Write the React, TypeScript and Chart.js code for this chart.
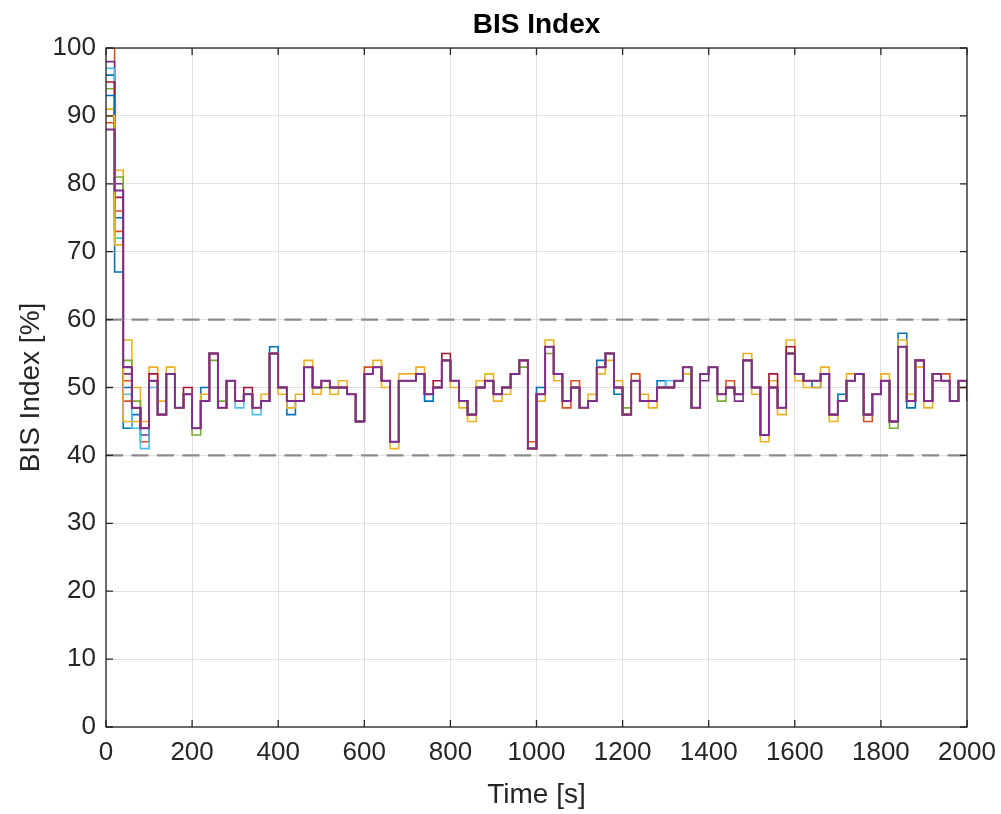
import React, { useEffect, useRef } from "react";
import { Chart, registerables } from "chart.js";

Chart.register(...registerables);

// Time stamps [s] (one sample every 20 s)
const TIME = [
  0, 20, 40, 60, 80, 100, 120, 140, 160, 180,
  200, 220, 240, 260, 280, 300, 320, 340, 360, 380,
  400, 420, 440, 460, 480, 500, 520, 540, 560, 580,
  600, 620, 640, 660, 680, 700, 720, 740, 760, 780,
  800, 820, 840, 860, 880, 900, 920, 940, 960, 980,
  1000, 1020, 1040, 1060, 1080, 1100, 1120, 1140, 1160, 1180,
  1200, 1220, 1240, 1260, 1280, 1300, 1320, 1340, 1360, 1380,
  1400, 1420, 1440, 1460, 1480, 1500, 1520, 1540, 1560, 1580,
  1600, 1620, 1640, 1660, 1680, 1700, 1720, 1740, 1760, 1780,
  1800, 1820, 1840, 1860, 1880, 1900, 1920, 1940, 1960, 1980,
  2000,
];

// BIS index per patient [%]
const PATIENT_1 = [
  96, 67, 44, 46, 44, 51, 46, 52, 47, 49,
  44, 50, 55, 47, 51, 48, 49, 47, 48, 56,
  50, 46, 48, 53, 50, 51, 50, 50, 49, 45,
  52, 53, 51, 42, 51, 51, 52, 48, 50, 54,
  51, 48, 46, 50, 51, 49, 50, 52, 54, 41,
  50, 56, 52, 48, 50, 47, 48, 54, 55, 49,
  46, 51, 48, 48, 51, 50, 51, 53, 47, 52,
  53, 49, 50, 49, 54, 50, 43, 50, 47, 55,
  52, 51, 50, 52, 46, 49, 51, 52, 46, 49,
  51, 45, 58, 47, 54, 48, 52, 51, 48, 51,
  48,
];
const PATIENT_2 = [
  100, 76, 51, 47, 42, 51, 46, 52, 47, 49,
  44, 48, 55, 47, 51, 48, 49, 47, 48, 55,
  50, 48, 48, 53, 50, 51, 50, 50, 49, 45,
  53, 53, 51, 42, 51, 51, 52, 49, 50, 54,
  51, 48, 46, 50, 51, 49, 50, 52, 54, 42,
  49, 56, 52, 47, 51, 47, 48, 53, 55, 50,
  46, 52, 48, 48, 50, 50, 51, 53, 47, 52,
  53, 49, 51, 49, 54, 50, 43, 50, 47, 55,
  52, 51, 51, 52, 46, 48, 51, 52, 45, 49,
  51, 45, 56, 48, 54, 48, 52, 52, 48, 50,
  48,
];
const PATIENT_3 = [
  91, 82, 57, 50, 44, 53, 48, 53, 47, 49,
  44, 49, 55, 47, 51, 48, 49, 47, 49, 55,
  49, 47, 49, 54, 49, 51, 49, 51, 49, 45,
  52, 54, 50, 41, 52, 52, 53, 49, 50, 54,
  50, 47, 45, 51, 52, 48, 49, 52, 54, 41,
  48, 57, 51, 48, 50, 47, 49, 52, 54, 51,
  46, 51, 49, 47, 50, 50, 51, 52, 47, 52,
  53, 49, 50, 49, 55, 49, 42, 51, 46, 57,
  51, 50, 50, 53, 45, 48, 52, 52, 46, 49,
  52, 45, 57, 49, 53, 47, 52, 51, 48, 51,
  48,
];
const PATIENT_4 = [
  98, 80, 52, 47, 43, 51, 46, 52, 47, 49,
  44, 48, 55, 47, 51, 48, 49, 47, 48, 55,
  50, 48, 48, 53, 50, 51, 50, 50, 49, 45,
  52, 53, 51, 42, 51, 51, 52, 49, 50, 54,
  51, 48, 46, 50, 51, 49, 50, 52, 54, 41,
  49, 56, 52, 48, 50, 47, 48, 53, 55, 50,
  46, 51, 48, 48, 50, 50, 51, 53, 47, 51,
  53, 49, 50, 48, 54, 50, 43, 50, 47, 55,
  52, 51, 51, 52, 46, 48, 51, 52, 46, 49,
  51, 45, 56, 48, 54, 48, 51, 51, 48, 51,
  48,
];
const PATIENT_5 = [
  94, 81, 54, 48, 44, 51, 46, 52, 47, 49,
  43, 48, 54, 48, 51, 48, 49, 47, 48, 55,
  50, 48, 48, 53, 50, 50, 50, 50, 49, 45,
  52, 53, 51, 42, 51, 51, 52, 49, 50, 54,
  51, 48, 46, 50, 51, 49, 50, 52, 53, 41,
  49, 55, 52, 48, 50, 47, 48, 53, 55, 50,
  47, 51, 48, 48, 50, 50, 51, 53, 47, 52,
  53, 48, 50, 49, 54, 50, 43, 50, 47, 55,
  52, 51, 51, 52, 46, 48, 51, 52, 46, 49,
  51, 44, 56, 48, 54, 48, 52, 51, 48, 51,
  48,
];
const PATIENT_6 = [
  97, 72, 49, 44, 41, 50, 46, 52, 47, 49,
  44, 48, 55, 47, 51, 47, 49, 46, 48, 55,
  50, 48, 48, 53, 50, 51, 50, 50, 49, 45,
  52, 53, 51, 42, 51, 51, 52, 49, 50, 54,
  51, 48, 46, 50, 51, 49, 50, 52, 54, 41,
  49, 56, 52, 48, 50, 47, 48, 53, 55, 50,
  46, 51, 48, 48, 50, 51, 51, 53, 47, 52,
  53, 49, 50, 49, 54, 50, 43, 50, 47, 55,
  52, 51, 51, 52, 46, 48, 51, 52, 46, 49,
  51, 45, 56, 48, 54, 48, 52, 51, 48, 51,
  48,
];
const PATIENT_7 = [
  95, 78, 53, 47, 44, 52, 46, 52, 47, 50,
  44, 48, 55, 47, 51, 48, 50, 47, 48, 55,
  50, 48, 48, 53, 50, 51, 50, 50, 49, 45,
  52, 53, 51, 42, 51, 51, 52, 49, 51, 55,
  51, 48, 46, 50, 51, 49, 50, 52, 54, 41,
  49, 56, 52, 48, 50, 47, 48, 53, 55, 50,
  46, 51, 48, 48, 50, 50, 51, 53, 47, 52,
  53, 49, 50, 49, 54, 50, 43, 52, 47, 56,
  52, 51, 51, 52, 46, 48, 51, 52, 46, 49,
  51, 45, 56, 48, 54, 48, 52, 51, 48, 51,
  48,
];
const PATIENT_8 = [
  93, 75, 50, 47, 44, 51, 46, 52, 47, 49,
  44, 48, 55, 47, 51, 48, 49, 47, 48, 55,
  50, 48, 48, 53, 50, 51, 50, 50, 49, 45,
  52, 53, 51, 42, 51, 51, 52, 49, 50, 54,
  51, 48, 46, 50, 51, 49, 50, 52, 54, 41,
  49, 56, 52, 48, 50, 47, 48, 53, 55, 50,
  46, 51, 48, 48, 50, 50, 51, 53, 47, 52,
  53, 49, 50, 49, 54, 50, 43, 50, 47, 55,
  52, 51, 51, 52, 46, 48, 51, 52, 46, 49,
  51, 45, 56, 48, 54, 48, 52, 51, 48, 51,
  48,
];
const PATIENT_9 = [
  89, 73, 48, 47, 44, 51, 46, 52, 47, 49,
  44, 48, 55, 47, 51, 48, 49, 47, 48, 55,
  50, 48, 48, 53, 50, 51, 50, 50, 49, 45,
  52, 53, 51, 42, 51, 51, 52, 49, 50, 54,
  51, 48, 46, 50, 51, 49, 50, 52, 54, 41,
  49, 56, 52, 48, 50, 47, 48, 53, 55, 50,
  46, 51, 48, 48, 50, 50, 51, 53, 47, 52,
  53, 49, 50, 49, 54, 50, 43, 50, 47, 55,
  52, 51, 51, 52, 46, 48, 51, 52, 46, 49,
  51, 45, 56, 48, 54, 48, 52, 51, 48, 51,
  48,
];
const PATIENT_10 = [
  90, 71, 45, 45, 45, 51, 46, 52, 47, 49,
  44, 48, 55, 47, 51, 48, 49, 47, 48, 55,
  50, 48, 48, 53, 50, 51, 50, 50, 49, 45,
  52, 53, 51, 42, 51, 51, 52, 49, 50, 54,
  51, 48, 46, 50, 51, 49, 50, 52, 54, 41,
  49, 56, 52, 48, 50, 47, 48, 53, 55, 50,
  46, 51, 48, 48, 50, 50, 51, 53, 47, 52,
  53, 49, 50, 49, 54, 50, 43, 50, 47, 55,
  52, 51, 51, 52, 46, 48, 51, 52, 46, 49,
  51, 45, 56, 48, 54, 48, 52, 51, 48, 51,
  48,
];
const PATIENT_11 = [
  88, 79, 53, 47, 44, 51, 46, 52, 47, 49,
  44, 48, 55, 47, 51, 48, 49, 47, 48, 55,
  50, 48, 48, 53, 50, 51, 50, 50, 49, 45,
  52, 53, 51, 42, 51, 51, 52, 49, 50, 54,
  51, 48, 46, 50, 51, 49, 50, 52, 54, 41,
  49, 56, 52, 48, 50, 47, 48, 53, 55, 50,
  46, 51, 48, 48, 50, 50, 51, 53, 47, 52,
  53, 49, 50, 49, 54, 50, 43, 50, 47, 55,
  52, 51, 51, 52, 46, 48, 51, 52, 46, 49,
  51, 45, 56, 48, 54, 48, 52, 51, 48, 51,
  48,
];

const PATIENTS = [
  PATIENT_1, PATIENT_2, PATIENT_3, PATIENT_4, PATIENT_5, PATIENT_6,
  PATIENT_7, PATIENT_8, PATIENT_9, PATIENT_10, PATIENT_11,
];

// MATLAB default colour order (cycled)
const COLORS = [
  "#0072BD", "#D95319", "#EDB120", "#7E2F8E", "#77AC30", "#4DBEEE", "#A2142F",
];

const LIMIT_LOWER = 40;
const LIMIT_UPPER = 60;
const X_TICKS = [0, 200, 400, 600, 800, 1000, 1200, 1400, 1600, 1800, 2000];
const Y_TICKS = [0, 10, 20, 30, 40, 50, 60, 70, 80, 90, 100];

const TITLE = "BIS Index";
const X_LABEL = "Time [s]";
const Y_LABEL = "BIS Index [%]";

const FONT = "'Liberation Sans', Arial, Helvetica, sans-serif";
const AXIS_COLOR = "#262626";

export default function App() {
  const canvasRef = useRef<HTMLCanvasElement | null>(null);

  useEffect(() => {
    const canvas = canvasRef.current;
    if (!canvas) return;

    const last = PATIENTS.length - 1;
    const patientSets = PATIENTS.map((vals, i) => ({
      label: `Patient ${i + 1}`,
      data: TIME.map((t, j) => ({ x: t, y: vals[j] })),
      borderColor: COLORS[i % COLORS.length],
      backgroundColor: COLORS[i % COLORS.length],
      borderWidth: i === last ? 2 : 1.6,
      stepped: "before" as const,
      pointRadius: 0,
      fill: false,
      order: 20 - i,
    }));

    const limitSet = (v: number, name: string) => ({
      label: name,
      data: [
        { x: X_TICKS[0], y: v },
        { x: X_TICKS[X_TICKS.length - 1], y: v },
      ],
      borderColor: "#8c8c8c",
      borderWidth: 2.2,
      borderDash: [17, 8.5],
      pointRadius: 0,
      fill: false,
      order: 1,
    });

    const decor = {
      id: "decor",
      afterDraw(chart: any) {
        const { ctx, chartArea: a, scales } = chart;
        ctx.save();
        // box
        ctx.strokeStyle = AXIS_COLOR;
        ctx.lineWidth = 1.3;
        ctx.strokeRect(a.left, a.top, a.right - a.left, a.bottom - a.top);
        // inward ticks
        const tl = 7;
        ctx.beginPath();
        X_TICKS.forEach((v) => {
          const px = scales.x.getPixelForValue(v);
          ctx.moveTo(px, a.bottom);
          ctx.lineTo(px, a.bottom - tl);
          ctx.moveTo(px, a.top);
          ctx.lineTo(px, a.top + tl);
        });
        Y_TICKS.forEach((v) => {
          const py = scales.y.getPixelForValue(v);
          ctx.moveTo(a.left, py);
          ctx.lineTo(a.left + tl, py);
          ctx.moveTo(a.right, py);
          ctx.lineTo(a.right - tl, py);
        });
        ctx.stroke();

        const cx = (a.left + a.right) / 2;
        // title
        ctx.fillStyle = "#000000";
        ctx.font = `bold 28px ${FONT}`;
        ctx.textAlign = "center";
        ctx.textBaseline = "middle";
        ctx.fillText(TITLE, cx, 25);
        // x label
        ctx.fillStyle = AXIS_COLOR;
        ctx.font = `28px ${FONT}`;
        ctx.fillText(X_LABEL, cx, 795);
        // y label
        ctx.translate(31, (a.top + a.bottom) / 2);
        ctx.rotate(-Math.PI / 2);
        ctx.fillText(Y_LABEL, 0, 0);
        ctx.restore();
      },
    };

    const chart = new Chart(canvas, {
      type: "line",
      data: {
        datasets: [
          limitSet(LIMIT_UPPER, "upper"),
          limitSet(LIMIT_LOWER, "lower"),
          ...patientSets,
        ] as any,
      },
      options: {
        animation: false,
        responsive: false,
        devicePixelRatio: 1,
        layout: { padding: { left: 0, right: 34, top: 48, bottom: 0 } },
        plugins: {
          legend: { display: false },
          title: { display: false },
          tooltip: { enabled: false },
        },
        scales: {
          x: {
            type: "linear",
            min: 0,
            max: 2000,
            afterBuildTicks: (scale: any) => {
              scale.ticks = X_TICKS.map((v) => ({ value: v }));
            },
            afterFit: (scale: any) => {
              scale.height = 87;
              scale.paddingLeft = 0;
              scale.paddingRight = 0;
            },
            grid: { color: "#e0e0e0", lineWidth: 1, drawTicks: false },
            border: { display: false },
            ticks: {
              color: AXIS_COLOR,
              font: { family: FONT, size: 26 },
              padding: 10,
              maxRotation: 0,
              autoSkip: false,
              callback: (v: any) => String(v),
            },
          },
          y: {
            type: "linear",
            min: 0,
            max: 100,
            afterBuildTicks: (scale: any) => {
              scale.ticks = Y_TICKS.map((v) => ({ value: v }));
            },
            afterFit: (scale: any) => {
              scale.width = 106;
              scale.paddingTop = 0;
              scale.paddingBottom = 0;
            },
            grid: { color: "#e0e0e0", lineWidth: 1, drawTicks: false },
            border: { display: false },
            ticks: {
              color: AXIS_COLOR,
              font: { family: FONT, size: 26 },
              padding: 10,
              autoSkip: false,
              callback: (v: any) => String(v),
            },
          },
        },
      },
      plugins: [decor],
    });

    return () => chart.destroy();
  }, []);

  return (
    <div
      style={{
        position: "absolute",
        left: 0,
        top: 0,
        width: 1001,
        height: 814,
        background: "#ffffff",
      }}
    >
      <canvas ref={canvasRef} width={1001} height={814} />
    </div>
  );
}
